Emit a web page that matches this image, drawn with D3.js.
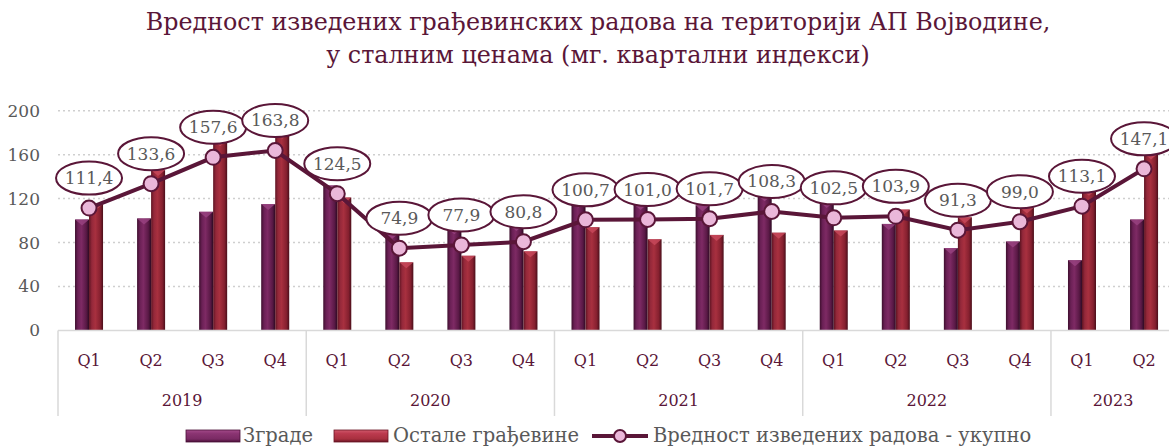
<!DOCTYPE html>
<html>
<head>
<meta charset="utf-8">
<script src="https://cdn.jsdelivr.net/npm/d3@7"></script>
<style>
  body { margin: 0; background: #fff; }
  text { font-family: "DejaVu Serif", serif; }
</style>
</head>
<body>
<div id="chart"></div>
<script>
// data
var years = ["2019", "2020", "2021", "2022", "2023"];
var quarters = ["Q1","Q2","Q3","Q4","Q1","Q2","Q3","Q4","Q1","Q2","Q3","Q4","Q1","Q2","Q3","Q4","Q1","Q2"];
var catYear = ["2019","2019","2019","2019","2020","2020","2020","2020","2021","2021","2021","2021","2022","2022","2022","2022","2023","2023"];
var zgrade = [101, 102, 108, 115, 132, 89, 93, 96, 117, 115, 114, 123, 117, 97, 75, 81, 64, 101];
var ostale = [115, 146, 173, 180, 121, 62, 68, 72, 94, 83, 87, 89, 91, 110, 103, 112, 128, 161];
var ukupno = [111.4, 133.6, 157.6, 163.8, 124.5, 74.9, 77.9, 80.8, 100.7, 101.0, 101.7, 108.3, 102.5, 103.9, 91.3, 99.0, 113.1, 147.1];
var yTicks = [0, 40, 80, 120, 160, 200];
var seriesNames = ["Зграде", "Остале грађевине", "Вредност изведених радова - укупно"];

var W = 1169, H = 448;
var left = 58, step = 62.06;
var lineCol = "#5a1638";

var svg = d3.select("#chart").append("svg")
  .attr("width", W).attr("height", H);

var defs = svg.append("defs");
function grad(id, stops, vertical){
  var g = defs.append("linearGradient").attr("id", id)
    .attr("x1", "0%").attr("x2", vertical ? "0%" : "100%")
    .attr("y1", "0%").attr("y2", vertical ? "100%" : "0%");
  stops.forEach(function(s){
    g.append("stop").attr("offset", s[0]).attr("stop-color", s[1]);
  });
}
grad("gZ", [["0%", "#3e0f2e"], ["20%", "#6a2055"], ["45%", "#7e2a64"], ["80%", "#5a1946"], ["100%", "#2e0a22"]]);
grad("gO", [["0%", "#5e1422"], ["20%", "#94283a"], ["45%", "#a8303f"], ["80%", "#85202f"], ["100%", "#4a0e1a"]]);
grad("lZ", [["0%", "#a44a8a"], ["30%", "#8a3472"], ["75%", "#7a2a64"], ["100%", "#4a1038"]], true);
grad("lO", [["0%", "#d05a6c"], ["30%", "#bc3a4e"], ["75%", "#a8303f"], ["100%", "#6a1424"]], true);

var x = d3.scaleBand()
  .domain(d3.range(quarters.length))
  .range([left, left + step * quarters.length])
  .padding(0);

var x1 = d3.scaleBand()
  .domain(["z", "o"])
  .range([0, x.bandwidth()])
  .paddingInner(0)
  .paddingOuter(1.215);

var y = d3.scaleLinear().domain([0, 200]).range([330.5, 110.7]);

// title
svg.append("text")
  .attr("x", 598).attr("y", 30)
  .attr("text-anchor", "middle")
  .style("font-size", "23.8px").style("fill", "#5a1638")
  .text("Вредност изведених грађевинских радова на територији АП Војводине,");
svg.append("text")
  .attr("x", 598).attr("y", 63)
  .attr("text-anchor", "middle")
  .style("font-size", "23.8px").style("fill", "#5a1638")
  .text("у сталним ценама (мг. квартални индекси)");

// grid
svg.append("g").selectAll("line")
  .data(yTicks.filter(function(d){ return d > 0; }))
  .enter().append("line")
  .attr("x1", left).attr("x2", W)
  .attr("y1", function(d){ return y(d); })
  .attr("y2", function(d){ return y(d); })
  .style("stroke", "#cfcfcf")
  .style("stroke-width", 1.5)
  .style("stroke-dasharray", "2,3");

// y axis labels
var yAxis = d3.axisLeft(y).tickValues(yTicks).tickSize(0).tickPadding(0);
var yg = svg.append("g")
  .attr("transform", "translate(40,0)")
  .call(yAxis);
yg.select(".domain").remove();
yg.selectAll("text")
  .style("font-size", "17px")
  .style("font-family", "DejaVu Serif, serif")
  .style("fill", "#595959");

// bars
function bar(vals, key, fill){
  var g = svg.append("g");
  var b = g.selectAll("g").data(vals).enter().append("g");
  b.append("rect")
    .attr("x", function(d, i){ return x(i) + x1(key); })
    .attr("y", function(d){ return y(d); })
    .attr("width", x1.bandwidth())
    .attr("height", function(d){ return y(0) - y(d); })
    .style("fill", "url(#" + fill + ")");
  // bevel on top
  b.append("path")
    .attr("d", function(d, i){
      var x0 = x(i) + x1(key), w = x1.bandwidth(), t = y(d);
      return "M" + x0 + "," + t + "L" + (x0 + w) + "," + t + "L" + (x0 + w / 2) + "," + (t + 6) + "Z";
    })
    .style("fill", key == "z" ? "#9a4382" : "#c94a5c")
    .style("opacity", 0.8);
}
bar(zgrade, "z", "gZ");
bar(ostale, "o", "gO");

// category axis box
var axisCol = "#d9d9d9";
svg.append("line")
  .attr("x1", left).attr("x2", W)
  .attr("y1", y(0)).attr("y2", y(0))
  .style("stroke", axisCol).style("stroke-width", 1.5);
var bounds = [0];
quarters.forEach(function(q, i){
  if (i > 0 && catYear[i] != catYear[i - 1]) bounds.push(i);
});
svg.append("g").selectAll("line")
  .data(bounds).enter().append("line")
  .attr("x1", function(d){ return x(d); })
  .attr("x2", function(d){ return x(d); })
  .attr("y1", y(0)).attr("y2", 416)
  .style("stroke", axisCol).style("stroke-width", 1.5);

svg.append("g").selectAll("text")
  .data(quarters).enter().append("text")
  .attr("x", function(d, i){ return x(i) + x.bandwidth() / 2; })
  .attr("y", 366)
  .attr("text-anchor", "middle")
  .style("font-size", "16px").style("fill", "#5a1638")
  .text(function(d){ return d; });

svg.append("g").selectAll("text")
  .data(years).enter().append("text")
  .attr("x", function(d){
    var idx = d3.range(catYear.length).filter(function(i){ return catYear[i] == d; });
    return (x(idx[0]) + x(idx[idx.length - 1]) + x.bandwidth()) / 2;
  })
  .attr("y", 406)
  .attr("text-anchor", "middle")
  .style("font-size", "16px").style("fill", "#5a1638")
  .text(function(d){ return d; });

// line
var cx = function(d, i){ return x(i) + x.bandwidth() / 2; };
var line = d3.line()
  .x(function(d, i){ return cx(d, i); })
  .y(function(d){ return y(d); });
svg.append("path")
  .datum(ukupno)
  .attr("d", line)
  .style("fill", "none")
  .style("stroke", lineCol)
  .style("stroke-width", 4);

svg.append("g").selectAll("circle")
  .data(ukupno).enter().append("circle")
  .attr("cx", cx)
  .attr("cy", function(d){ return y(d); })
  .attr("r", 7.5)
  .style("fill", "#eab7d9")
  .style("stroke", lineCol)
  .style("stroke-width", 2);

// value labels
var fmt = function(d){ return d.toFixed(1).replace(".", ","); };
var lab = svg.append("g").selectAll("g")
  .data(ukupno).enter().append("g")
  .attr("transform", function(d, i){ return "translate(" + cx(d, i) + "," + (y(d) - 30) + ")"; });
lab.append("ellipse")
  .attr("rx", 33).attr("ry", 16.5)
  .style("fill", "#fff")
  .style("stroke", lineCol)
  .style("stroke-width", 2);
lab.append("text")
  .attr("y", 6)
  .attr("text-anchor", "middle")
  .style("font-size", "17px").style("fill", "#595959")
  .text(fmt);

// legend
var leg = svg.append("g");
leg.append("rect").attr("x", 186).attr("y", 430).attr("width", 54).attr("height", 12)
  .style("fill", "url(#lZ)").style("stroke", "#4a1038").style("stroke-width", 0.8);
leg.append("text").attr("x", 243).attr("y", 442)
  .style("font-size", "19.5px").style("fill", "#595959").text(seriesNames[0]);
leg.append("rect").attr("x", 334).attr("y", 430).attr("width", 54).attr("height", 12)
  .style("fill", "url(#lO)").style("stroke", "#6a1424").style("stroke-width", 0.8);
leg.append("text").attr("x", 393).attr("y", 442)
  .style("font-size", "19.5px").style("fill", "#595959").text(seriesNames[1]);
leg.append("line").attr("x1", 592).attr("x2", 648).attr("y1", 436).attr("y2", 436)
  .style("stroke", lineCol).style("stroke-width", 4);
leg.append("circle").attr("cx", 620).attr("cy", 436).attr("r", 6)
  .style("fill", "#eab7d9").style("stroke", lineCol).style("stroke-width", 2);
leg.append("text").attr("x", 653).attr("y", 442)
  .style("font-size", "19.5px").style("fill", "#595959").text(seriesNames[2]);
</script>
</body>
</html>
